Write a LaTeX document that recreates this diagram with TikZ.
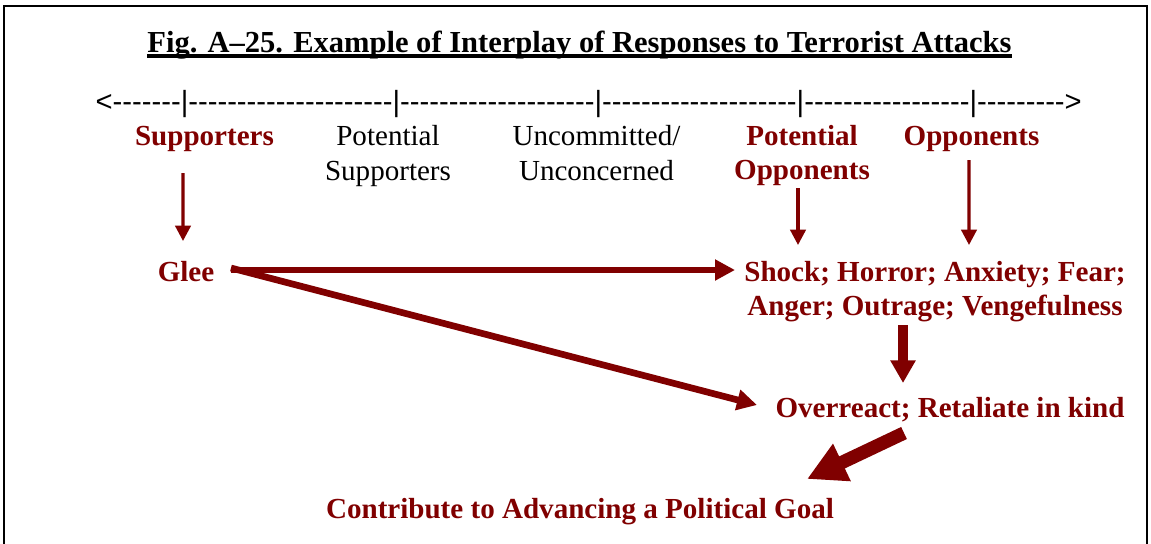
\documentclass[tikz,border=0pt]{standalone}
\usepackage{fontspec}
\setmainfont{Liberation Serif}
\newfontfamily\axisfont{Liberation Sans}
\usetikzlibrary{arrows.meta}
\definecolor{maroon}{RGB}{128,0,0}
\begin{document}
\begin{tikzpicture}[x=0.75pt,y=-0.75pt,
  txt/.style={anchor=base,inner sep=0pt,align=center,font=\fontsize{21.8}{25.5}\selectfont},
  redtxt/.style={txt,text=maroon,font=\fontsize{21.8}{25.5}\selectfont\bfseries},
  thinarr/.style={draw=maroon,line width=2.4pt,-{Triangle[width=11.5pt,length=11.5pt]}},
  medarr/.style={draw=maroon,line width=5pt,-{Triangle[width=15pt,length=15pt]}},
  fatarr/.style={draw=maroon,line width=7.5pt,-{Triangle[width=18pt,length=17pt]}},
  hugearr/.style={draw=maroon,line width=10pt,-{Triangle[width=29pt,length=29pt]}}]
\useasboundingbox (0,0) rectangle (1151,543);
\draw[line width=2pt] (4,620) -- (4,6) -- (1147,6) -- (1147,620);
% title
\node[txt,font=\fontsize{22.9}{26}\selectfont\bfseries] (title) at (579.5,52) {Fig. A--25. Example of Interplay of Responses to Terrorist Attacks};
\draw[line width=2.4pt] ([yshift=-3pt]title.base west) -- ([yshift=-3pt]title.base east);
% axis
\node[txt,anchor=base west,font=\fontsize{21.9}{25.5}\axisfont] (axis) at (95.4,111) {<-------|---------------------|--------------------|--------------------|-----------------|--------->};
% labels
\node[redtxt] (sup) at (204.5,145) {Supporters};
\node[txt,font=\fontsize{21.8}{26.2}\selectfont] (psup) at (388,180) {Potential\\Supporters};
\node[txt,font=\fontsize{21.8}{26.2}\selectfont] (unc) at (596.5,180) {Uncommitted/\\Unconcerned};
\node[redtxt] (popp) at (802,179) {Potential\\Opponents};
\node[redtxt] (opp) at (971.5,145) {Opponents};
\node[redtxt] (glee) at (186,281) {Glee};
\node[redtxt,font=\fontsize{21.8}{25.1}\selectfont\bfseries] (shock) at (935,315) {Shock; Horror; Anxiety; Fear;\\Anger; Outrage; Vengefulness};
\node[redtxt] (over) at (950,417) {Overreact; Retaliate in kind};
\node[redtxt] (goal) at (580,518) {Contribute to Advancing a Political Goal};
% connectors
\draw[thinarr] ([xshift=-16.1pt,yshift=-21pt]sup.base) -- ([xshift=-2.25pt,yshift=30pt]glee.base);
\draw[thinarr] ([xshift=-3pt,yshift=-6.75pt]popp.base) -- ([xshift=-102.75pt,yshift=52.5pt]shock.base);
\draw[thinarr] ([xshift=-1.9pt,yshift=-11.25pt]opp.base) -- ([xshift=25.5pt,yshift=52.5pt]shock.base);
\draw[medarr] ([xshift=33.75pt,yshift=8.25pt]glee.base) -- ([xshift=-150pt,yshift=33.75pt]shock.base);
\draw[medarr] ([xshift=33.75pt,yshift=9.75pt]glee.base) -- ([xshift=-144.75pt,yshift=9pt]over.base);
\draw[fatarr] ([xshift=-24pt,yshift=-7.5pt]shock.base) -- ([xshift=-35.25pt,yshift=25.5pt]over.base);
\draw[hugearr] ([xshift=-34.5pt,yshift=-12pt]over.base) -- ([xshift=170.25pt,yshift=29.25pt]goal.base);
\end{tikzpicture}
\end{document}
